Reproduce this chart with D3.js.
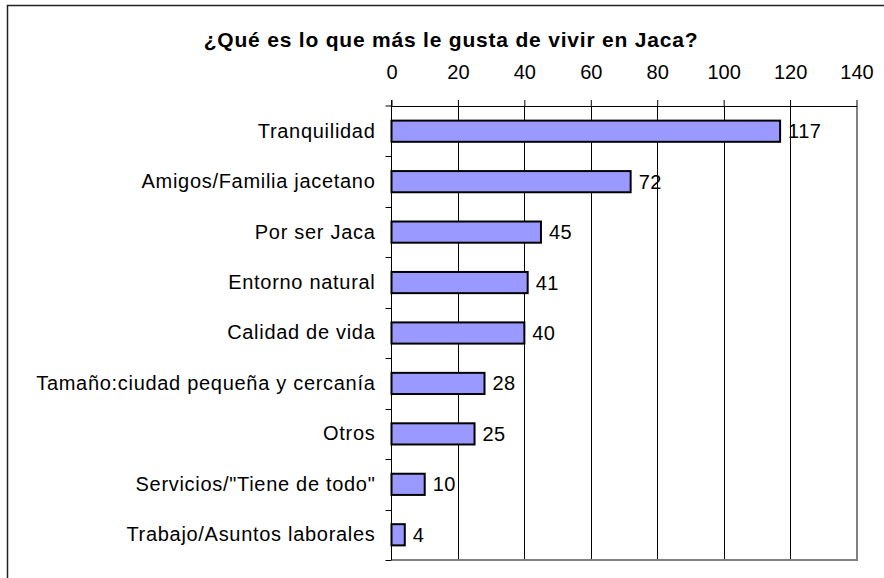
<!DOCTYPE html>
<html>
<head>
<meta charset="utf-8">
<script src="https://cdn.jsdelivr.net/npm/d3@7"></script>
<style>
  body { margin: 0; background: #fff; }
  text { font-family: "Liberation Sans", Arial, sans-serif; fill: #000; }
</style>
</head>
<body>
<div id="chart"></div>
<script>
'use strict';

const width = 884;
const height = 578;

// data
const categories = [
    'Tranquilidad',
    'Amigos/Familia jacetano',
    'Por ser Jaca',
    'Entorno natural',
    'Calidad de vida',
    'Tamaño:ciudad pequeña y cercanía',
    'Otros',
    'Servicios/"Tiene de todo"',
    'Trabajo/Asuntos laborales'
];
const values = [117, 72, 45, 41, 40, 28, 25, 10, 4];
const tickValues = [0, 20, 40, 60, 80, 100, 120, 140];
const title = '¿Qué es lo que más le gusta de vivir en Jaca?';

const plot = {left: 391.5, right: 856.5, top: 106, bottom: 560};

const x = d3.scaleLinear()
    .domain([0, 140])
    .range([plot.left, plot.right]);

const y = d3.scaleBand()
    .domain(categories)
    .range([plot.top, plot.bottom])
    .paddingInner(0.58)
    .paddingOuter(0.29);

let svg = d3.select('#chart').append('svg')
    .attr('width', width)
    .attr('height', height);

svg.append('rect')
    .attr('width', width)
    .attr('height', height)
    .attr('fill', '#fff');

// chart border (only top and left show in the crop)
svg.append('path')
    .attr('d', 'M7.5,' + height + 'V5.5H' + width)
    .attr('fill', 'none')
    .attr('stroke', '#222')
    .attr('stroke-width', 1.5);

svg.append('text')
    .attr('x', 451)
    .attr('y', 46.5)
    .attr('text-anchor', 'middle')
    .style('font-size', '21px')
    .style('font-weight', 'bold')
    .style('letter-spacing', '0.8px')
    .text(title);

// gridlines
svg.append('g').selectAll('line')
    .data(tickValues.slice(1, -1))
    .enter().append('line')
    .attr('x1', d => Math.round(x(d)) + 0.5)
    .attr('x2', d => Math.round(x(d)) + 0.5)
    .attr('y1', plot.top)
    .attr('y2', plot.bottom)
    .attr('stroke', '#000')
    .attr('stroke-width', 1);

// plot area border, grey on right and bottom
svg.append('path')
    .attr('d', 'M' + plot.left + ',' + plot.bottom + 'H' + (plot.right + 0.5) + 'V' + plot.top)
    .attr('fill', 'none')
    .attr('stroke', '#808080')
    .attr('stroke-width', 2);

// bars
svg.append('g').selectAll('rect')
    .data(values)
    .enter().append('rect')
    .attr('x', x(0))
    .attr('y', (d, i) => y(categories[i]))
    .attr('width', d => x(d) - x(0))
    .attr('height', y.bandwidth())
    .attr('fill', '#9999ff')
    .attr('stroke', '#000')
    .attr('stroke-width', 2);

// value labels
svg.append('g').selectAll('text')
    .data(values)
    .enter().append('text')
    .attr('x', d => x(d) + 8)
    .attr('y', (d, i) => y(categories[i]) + y.bandwidth() / 2)
    .attr('dy', '0.35em')
    .style('font-size', '20px')
    .style('letter-spacing', '0.4px')
    .text(d => d);

// top value axis
const xAxis = d3.axisTop(x)
    .tickValues(tickValues)
    .tickSize(6)
    .tickSizeOuter(0)
    .tickPadding(21);

const gx = svg.append('g')
    .attr('transform', 'translate(0,' + plot.top + ')')
    .call(xAxis);
gx.select('.domain').attr('stroke', '#000');
gx.selectAll('.tick line').attr('stroke', '#000');
gx.selectAll('text')
    .style('font-size', '20px')
    .attr('font-family', null)
    .attr('fill', '#000');

// top line reaches the left tick
svg.append('line')
    .attr('x1', plot.left - 6)
    .attr('x2', plot.left)
    .attr('y1', plot.top)
    .attr('y2', plot.top)
    .attr('stroke', '#000');

// left category axis
const yAxis = d3.axisLeft(y)
    .tickSize(0)
    .tickPadding(16);

const gy = svg.append('g')
    .attr('transform', 'translate(' + plot.left + ',0)')
    .call(yAxis);
gy.select('.domain').remove();
gy.selectAll('text')
    .style('font-size', '20px')
    .style('letter-spacing', '0.7px')
    .attr('font-family', null)
    .attr('fill', '#000');

svg.append('line')
    .attr('x1', plot.left)
    .attr('x2', plot.left)
    .attr('y1', plot.top - 6)
    .attr('y2', plot.bottom)
    .attr('stroke', '#000');

// tick marks between categories
const bounds = categories.map(c => y(c) - y.step() * y.paddingInner() / 2).slice(1);
bounds.push(plot.bottom);
svg.append('g').selectAll('line')
    .data(bounds)
    .enter().append('line')
    .attr('x1', plot.left - 6)
    .attr('x2', plot.left)
    .attr('y1', d => Math.round(d) + 0.5)
    .attr('y2', d => Math.round(d) + 0.5)
    .attr('stroke', '#000');
</script>
</body>
</html>
